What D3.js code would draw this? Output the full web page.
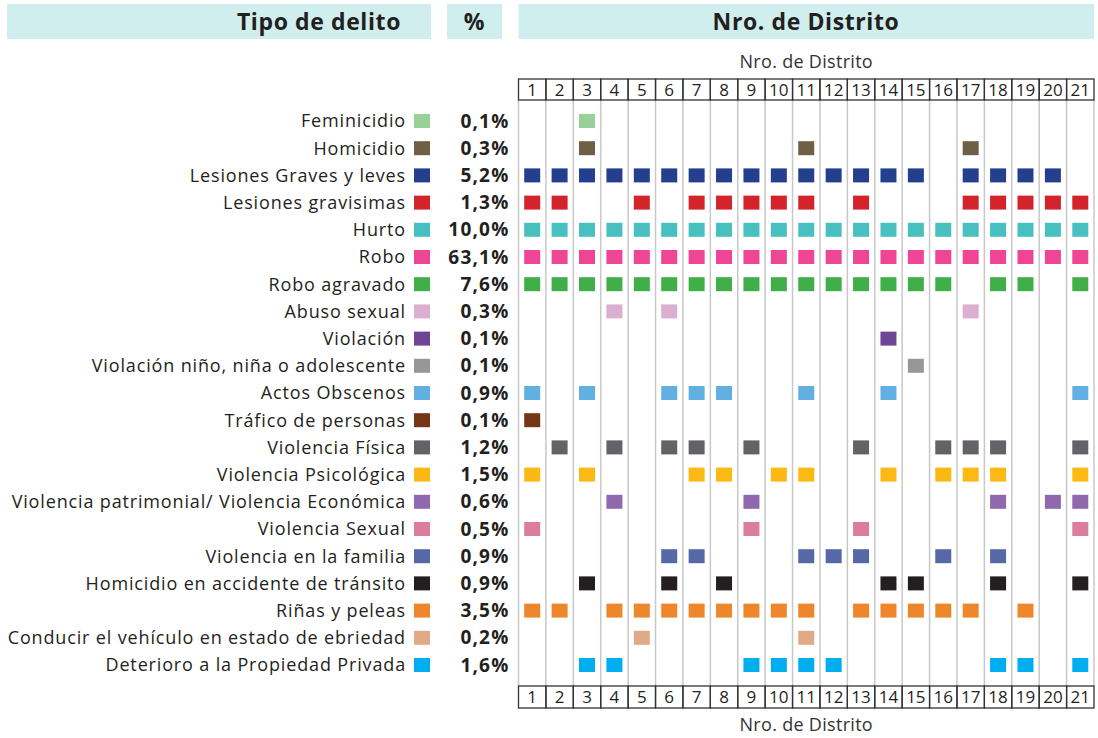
<!DOCTYPE html>
<html lang="es">
<head>
  <meta charset="UTF-8">
  <title>Tipo de delito por Nro. de Distrito</title>
  <script src="https://d3js.org/d3.v7.min.js"></script>
  <style>
    body { margin: 0; background: #fff; font-family: "Open Sans", sans-serif; }
    .head { font-size: 23px; font-weight: bold; fill: #231f20; letter-spacing: 0.6px; }
    .label { font-size: 18px; fill: #231f20; letter-spacing: 0.85px; }
    .pct { font-size: 19px; font-weight: bold; fill: #231f20; letter-spacing: 1.2px; }
    .num { font-size: 17px; fill: #231f20; }
    .sub { font-size: 18px; fill: #333; letter-spacing: 0.3px; }
  </style>
</head>
<body>
  <div id="chart"></div>

  <script>
    const delitos = [
      "Feminicidio", "Homicidio", "Lesiones Graves y leves", "Lesiones gravisimas",
      "Hurto", "Robo", "Robo agravado", "Abuso sexual", "Violación",
      "Violación niño, niña o adolescente", "Actos Obscenos", "Tráfico de personas",
      "Violencia Física", "Violencia Psicológica",
      "Violencia patrimonial/ Violencia Económica", "Violencia Sexual",
      "Violencia en la familia", "Homicidio en accidente de tránsito",
      "Riñas y peleas", "Conducir el vehículo en estado de ebriedad",
      "Deterioro a la Propiedad Privada"
    ];
    const porcentajes = ["0,1%", "0,3%", "5,2%", "1,3%", "10,0%", "63,1%", "7,6%", "0,3%", "0,1%",
      "0,1%", "0,9%", "0,1%", "1,2%", "1,5%", "0,6%", "0,5%", "0,9%", "0,9%", "3,5%", "0,2%", "1,6%"];
    const colores = ["#98d098", "#6e5f45", "#253f8f", "#d4232b", "#47c0bf", "#ee4594", "#40ae49",
      "#dcaed0", "#6f4596", "#979798", "#62b0e1", "#743615", "#626366", "#fdb913", "#8f68ad",
      "#da7d9f", "#5768a7", "#231f20", "#ee872b", "#e0aa88", "#00aeef"];
    const distritos = d3.range(1, 22);
    // distritos donde aparece cada delito
    const presencia = [
      [3],
      [3, 11, 17],
      [1, 2, 3, 4, 5, 6, 7, 8, 9, 10, 11, 12, 13, 14, 15, 17, 18, 19, 20],
      [1, 2, 5, 7, 8, 9, 10, 11, 13, 17, 18, 19, 20, 21],
      [1, 2, 3, 4, 5, 6, 7, 8, 9, 10, 11, 12, 13, 14, 15, 16, 17, 18, 19, 20, 21],
      [1, 2, 3, 4, 5, 6, 7, 8, 9, 10, 11, 12, 13, 14, 15, 16, 17, 18, 19, 20, 21],
      [1, 2, 3, 4, 5, 6, 7, 8, 9, 10, 11, 12, 13, 14, 15, 16, 18, 19, 21],
      [4, 6, 17],
      [14],
      [15],
      [1, 3, 6, 7, 8, 11, 14, 21],
      [1],
      [2, 4, 6, 7, 9, 13, 16, 17, 18, 21],
      [1, 3, 7, 8, 10, 11, 14, 16, 17, 18, 21],
      [4, 9, 18, 20, 21],
      [1, 9, 13, 21],
      [6, 7, 11, 12, 13, 16, 18],
      [3, 6, 8, 14, 15, 18, 21],
      [1, 2, 4, 5, 6, 7, 8, 9, 10, 11, 13, 14, 15, 16, 17, 19],
      [5, 11],
      [3, 4, 9, 10, 11, 12, 18, 19, 21]
    ];

    const W = 1098, H = 738;
    const svg = d3.select("#chart").append("svg")
      .attr("width", W).attr("height", H);

    const x = d3.scaleBand().domain(distritos).range([518.5, 1094]);
    const y = d3.scalePoint().domain(delitos).range([121, 665]);
    const gridTop = 100, gridBottom = 686;

    // cabeceras
    const heads = [
      {x0: 7, x1: 431, text: "Tipo de delito", anchor: "end", tx: 401},
      {x0: 447, x1: 502, text: "%", anchor: "middle", tx: 474.5},
      {x0: 518.5, x1: 1094, text: "Nro. de Distrito", anchor: "middle", tx: 806}
    ];
    svg.selectAll(".headbox").data(heads).enter().append("rect")
      .attr("x", d => d.x0).attr("y", 4)
      .attr("width", d => d.x1 - d.x0).attr("height", 35)
      .attr("fill", "#d0eeed");
    svg.selectAll(".head").data(heads).enter().append("text")
      .attr("class", "head")
      .attr("x", d => d.tx).attr("y", 22)
      .attr("dy", "0.35em")
      .attr("text-anchor", d => d.anchor)
      .text(d => d.text);

    // líneas verticales
    svg.selectAll(".vline").data(distritos.concat([22])).enter().append("line")
      .attr("x1", d => d === 22 ? x.range()[1] : x(d))
      .attr("x2", d => d === 22 ? x.range()[1] : x(d))
      .attr("y1", gridTop).attr("y2", gridBottom)
      .attr("stroke", "#c8c8c8").attr("stroke-width", 1.5);

    // cajas de números de distrito arriba y abajo
    [[79, 100, 62], [686, 708, 725]].forEach(([t, b, ly]) => {
      const g = svg.append("g");
      g.selectAll("rect").data(distritos).enter().append("rect")
        .attr("x", d => x(d)).attr("y", t)
        .attr("width", x.bandwidth()).attr("height", b - t)
        .attr("fill", "none").attr("stroke", "#333").attr("stroke-width", 1.3);
      g.selectAll("text").data(distritos).enter().append("text")
        .attr("class", "num")
        .attr("x", d => x(d) + x.bandwidth() / 2).attr("y", (t + b) / 2)
        .attr("dy", "0.36em").attr("text-anchor", "middle")
        .text(d => d);
      g.append("text")
        .attr("class", "sub")
        .attr("x", (x.range()[0] + x.range()[1]) / 2).attr("y", ly)
        .attr("dy", "0.35em").attr("text-anchor", "middle")
        .text("Nro. de Distrito");
    });

    // filas: etiqueta, cuadro de leyenda, porcentaje
    const rows = delitos.map((d, i) => ({delito: d, pct: porcentajes[i], color: colores[i], dist: presencia[i]}));

    svg.selectAll(".label.row").data(rows).enter().append("text")
      .attr("class", "label row")
      .attr("x", 406).attr("y", d => y(d.delito))
      .attr("dy", "0.35em").attr("text-anchor", "end")
      .text(d => d.delito);

    svg.selectAll(".legsq").data(rows).enter().append("rect")
      .attr("x", 414).attr("y", d => y(d.delito) - 7)
      .attr("width", 16).attr("height", 14)
      .attr("fill", d => d.color);

    svg.selectAll(".pct").data(rows).enter().append("text")
      .attr("class", "pct")
      .attr("x", 509.5).attr("y", d => y(d.delito))
      .attr("dy", "0.35em").attr("text-anchor", "end")
      .text(d => d.pct);

    // cuadros por distrito
    const cells = rows.flatMap(r => r.dist.map(k => ({delito: r.delito, color: r.color, distrito: k})));
    svg.selectAll(".cell").data(cells).enter().append("rect")
      .attr("class", "cell")
      .attr("x", d => x(d.distrito) + x.bandwidth() / 2 - 8)
      .attr("y", d => y(d.delito) - 7)
      .attr("width", 16).attr("height", 14)
      .attr("fill", d => d.color);
  </script>
</body>
</html>
